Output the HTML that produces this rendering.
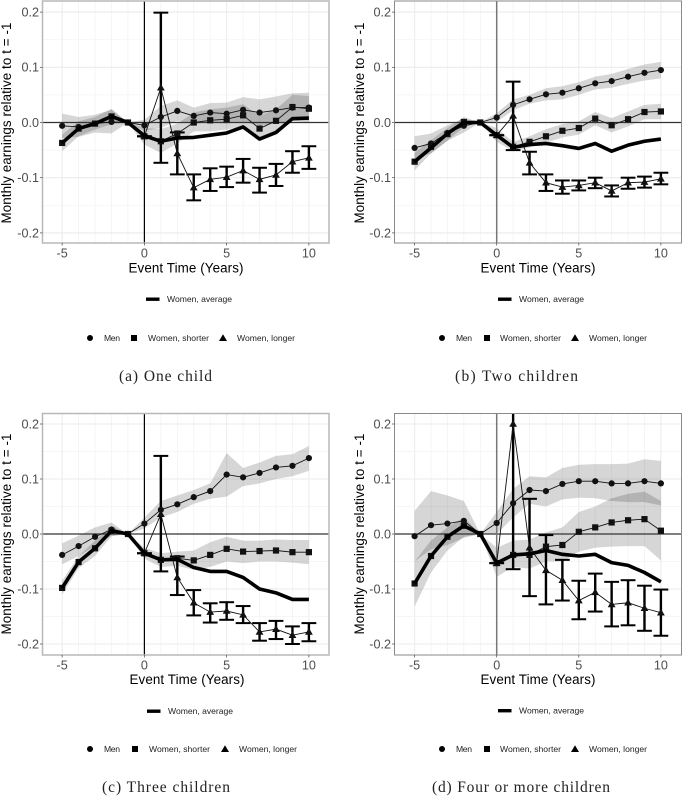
<!DOCTYPE html>
<html>
<head>
<meta charset="utf-8">
<title>Monthly earnings event study</title>
<style>
html,body{margin:0;padding:0;background:#fff}
svg{display:block;filter:blur(.3px)}
text{font-family:"Liberation Sans",sans-serif}
.tick{font-size:12.6px;fill:#4d4d4d}
.ttl{font-size:13.4px;fill:#000}
.leg{font-size:8.6px;fill:#222}
.cap{font-family:"Liberation Serif",serif;font-size:15.5px;fill:#222}
</style>
</head>
<body>
<svg id="figure" width="683" height="796" viewBox="0 0 683 796" xmlns="http://www.w3.org/2000/svg">
<rect width="683" height="796" fill="#fff"/>
<g id="marks"></g>

<g>
<text class="ttl" transform="translate(11,123) rotate(-90)" text-anchor="middle" textLength="201">Monthly earnings relative to t = -1</text>
<text class="ttl" x="186" y="272.5" text-anchor="middle" textLength="115">Event Time (Years)</text>
<rect x="146" y="297.5" width="13.5" height="3.4" fill="#000"/>
<text class="leg" x="167" y="302" textLength="65">Women, average</text>
<circle cx="90" cy="338" r="3"/>
<text class="leg" x="104" y="341" textLength="16">Men</text>
<rect x="131" y="335" width="6" height="6"/>
<text class="leg" x="148" y="341" textLength="61">Women, shorter</text>
<path d="M223 334.2l4 6.8h-8z"/>
<text class="leg" x="237" y="341" textLength="58">Women, longer</text>
<text class="cap" x="119" y="381" textLength="93">(a) One child</text>
</g>

<g>
<text class="ttl" transform="translate(364,123) rotate(-90)" text-anchor="middle" textLength="201">Monthly earnings relative to t = -1</text>
<text class="ttl" x="538" y="272.5" text-anchor="middle" textLength="115">Event Time (Years)</text>
<rect x="498" y="297.5" width="13.5" height="3.4" fill="#000"/>
<text class="leg" x="519" y="302" textLength="65">Women, average</text>
<circle cx="442" cy="338" r="3"/>
<text class="leg" x="456" y="341" textLength="16">Men</text>
<rect x="484" y="335" width="6" height="6"/>
<text class="leg" x="500" y="341" textLength="61">Women, shorter</text>
<path d="M575 334.2l4 6.8h-8z"/>
<text class="leg" x="589" y="341" textLength="58">Women, longer</text>
<text class="cap" x="455" y="381" textLength="123">(b) Two children</text>
</g>

<g>
<text class="ttl" transform="translate(11,534) rotate(-90)" text-anchor="middle" textLength="201">Monthly earnings relative to t = -1</text>
<text class="ttl" x="187" y="684" text-anchor="middle" textLength="115">Event Time (Years)</text>
<rect x="147" y="709.5" width="13.5" height="3.4" fill="#000"/>
<text class="leg" x="168" y="714" textLength="65">Women, average</text>
<circle cx="90" cy="749" r="3"/>
<text class="leg" x="104" y="752" textLength="16">Men</text>
<rect x="132" y="746" width="6" height="6"/>
<text class="leg" x="149" y="752" textLength="61">Women, shorter</text>
<path d="M225 745.2l4 6.8h-8z"/>
<text class="leg" x="239" y="752" textLength="58">Women, longer</text>
<text class="cap" x="102" y="792" textLength="128">(c) Three children</text>
</g>

<g>
<text class="ttl" transform="translate(364,534) rotate(-90)" text-anchor="middle" textLength="201">Monthly earnings relative to t = -1</text>
<text class="ttl" x="538" y="684" text-anchor="middle" textLength="115">Event Time (Years)</text>
<rect x="498" y="709" width="13.5" height="3.4" fill="#000"/>
<text class="leg" x="519" y="713.5" textLength="65">Women, average</text>
<circle cx="442" cy="749" r="3"/>
<text class="leg" x="456" y="752" textLength="16">Men</text>
<rect x="484" y="746" width="6" height="6"/>
<text class="leg" x="500" y="752" textLength="61">Women, shorter</text>
<path d="M575 745.2l4 6.8h-8z"/>
<text class="leg" x="589" y="752" textLength="58">Women, longer</text>
<text class="cap" x="432" y="792" textLength="178">(d) Four or more children</text>
</g>
</svg>

<script>
var years = [-5,-4,-3,-2,-1,0,1,2,3,4,5,6,7,8,9,10];
var longerYears = [0,1,2,3,4,5,6,7,8,9,10];
var xTickLabels = [-5,0,5,10];
var yTickLabels = [0.2,0.1,0,-0.1,-0.2];

/* Panel A: one child */
var aMen = [-.006,-.008,-.002,.001,0,-.005,.01,.021,.012,.018,.016,.023,.018,.022,.027,.027];
var aMenHigh = [.016,.01,.014,.023,0,.005,.03,.04,.027,.035,.036,.046,.042,.047,.053,.054];
var aMenLow = [-.028,-.026,-.018,-.02,0,-.015,-.01,.003,-.003,.001,-.002,.001,-.005,-.002,.003,.001];
var aShorter = [-.037,-.011,-.002,.011,0,-.025,-.034,-.02,0,.004,.006,.013,-.011,.003,.028,.025];
var aShorterHigh = [-.022,.002,.01,.025,0,-.01,-.012,-.002,.018,.024,.027,.033,.012,.024,.05,.048];
var aShorterLow = [-.052,-.025,-.013,-.003,0,-.04,-.055,-.038,-.016,-.016,-.013,-.007,-.03,-.018,.006,.004];
var aLonger = [-.025,.063,-.056,-.118,-.103,-.099,-.087,-.103,-.095,-.071,-.064];
var aLongerHigh = [-.025,.199,-.018,-.094,-.083,-.08,-.066,-.082,-.075,-.052,-.043];
var aLongerLow = [-.025,-.073,-.094,-.141,-.124,-.117,-.109,-.127,-.115,-.091,-.084];
var aAverage = [-.037,-.011,-.002,.011,0,-.024,-.034,-.028,-.027,-.023,-.019,-.008,-.03,-.018,.007,.008];

/* Panel B: two children */
var bMen = [-.046,-.038,-.019,-.006,0,.009,.032,.042,.051,.054,.062,.071,.075,.083,.09,.095];
var bMenHigh = [-.025,-.02,-.005,.007,0,.017,.042,.05,.062,.066,.073,.083,.088,.097,.105,.11];
var bMenLow = [-.067,-.056,-.033,-.018,0,.001,.022,.034,.04,.042,.05,.06,.063,.07,.076,.08];
var bShorter = [-.071,-.044,-.021,.001,0,-.023,-.044,-.035,-.025,-.015,-.01,.007,-.005,.006,.019,.02];
var bShorterHigh = [-.055,-.032,-.01,.01,0,-.01,-.035,-.025,-.012,-.003,.002,.019,.008,.02,.032,.034];
var bShorterLow = [-.087,-.056,-.033,-.008,0,-.035,-.052,-.045,-.037,-.027,-.022,-.005,-.018,-.007,.006,.006];
var bLonger = [-.023,.012,-.073,-.109,-.117,-.114,-.109,-.124,-.109,-.108,-.102];
var bLongerHigh = [-.023,.074,-.053,-.094,-.105,-.105,-.1,-.114,-.1,-.098,-.091];
var bLongerLow = [-.023,-.05,-.094,-.124,-.129,-.123,-.119,-.134,-.12,-.118,-.112];
var bAverage = [-.071,-.046,-.02,0,0,-.023,-.045,-.04,-.038,-.042,-.047,-.038,-.052,-.041,-.034,-.03];

/* Panel C: three children */
var cMen = [-.038,-.022,-.005,.008,0,.019,.044,.054,.067,.078,.108,.103,.111,.121,.124,.138];
var cMenHigh = [-.017,-.003,.012,.021,0,.03,.06,.07,.08,.092,.147,.12,.13,.142,.145,.16];
var cMenLow = [-.055,-.04,-.022,-.003,0,.01,.03,.04,.055,.064,.068,.087,.092,.1,.105,.115];
var cShorter = [-.098,-.051,-.026,.006,0,-.035,-.047,-.044,-.048,-.038,-.027,-.032,-.031,-.03,-.033,-.033];
var cShorterHigh = [-.085,-.04,-.012,.015,0,-.025,-.035,-.032,-.03,-.015,-.005,-.012,-.012,-.01,-.011,-.011];
var cShorterLow = [-.11,-.062,-.04,-.004,0,-.045,-.06,-.058,-.065,-.06,-.05,-.053,-.05,-.05,-.052,-.055];
var cLonger = [-.035,.036,-.079,-.125,-.142,-.14,-.147,-.178,-.173,-.184,-.178];
var cLongerHigh = [-.035,.142,-.041,-.102,-.126,-.124,-.131,-.162,-.158,-.168,-.162];
var cLongerLow = [-.035,-.068,-.111,-.148,-.161,-.156,-.162,-.194,-.191,-.2,-.195];
var cAverage = [-.098,-.051,-.026,.006,0,-.035,-.047,-.046,-.061,-.068,-.068,-.079,-.1,-.107,-.119,-.119];

/* Panel D: four or more children */
var dMen = [-.004,.016,.019,.024,0,.02,.056,.08,.078,.091,.096,.096,.092,.092,.096,.092];
var dMenHigh = [.042,.078,.07,.06,0,.04,.082,.105,.103,.12,.126,.127,.127,.128,.136,.133];
var dMenLow = [-.05,-.028,-.02,-.007,0,0,.03,.055,.05,.063,.066,.065,.06,.058,.058,.052];
var dShorter = [-.09,-.04,-.005,.015,0,-.053,-.038,-.038,-.023,-.02,.004,.012,.021,.025,.027,.006];
var dShorterHigh = [-.05,-.012,.012,.03,0,-.025,-.012,-.01,.003,.012,.04,.05,.065,.073,.077,.06];
var dShorterLow = [-.132,-.07,-.03,-.005,0,-.078,-.06,-.063,-.05,-.05,-.032,-.025,-.023,-.022,-.022,-.048];
var dLonger = [-.053,.2,-.025,-.066,-.084,-.121,-.106,-.128,-.125,-.135,-.143];
var dLongerHigh = [-.053,.3,.064,-.002,-.047,-.085,-.072,-.087,-.084,-.094,-.101];
var dLongerLow = [-.053,-.064,-.113,-.128,-.121,-.155,-.141,-.168,-.166,-.176,-.185];
var dAverage = [-.09,-.04,-.005,.015,0,-.053,-.038,-.036,-.03,-.037,-.04,-.037,-.052,-.057,-.07,-.087];

var panels = [
 {id:'a',left:42.5,right:329,top:1,bottom:243,x0:144.4,perYear:16.45,y0:122.5,per01:55.2,border:'#b8b8b8',bw:1.5,vline:'#000',vw:1.2,
  men:aMen,menHigh:aMenHigh,menLow:aMenLow,shorter:aShorter,shorterHigh:aShorterHigh,shorterLow:aShorterLow,longer:aLonger,longerHigh:aLongerHigh,longerLow:aLongerLow,average:aAverage},
 {id:'b',left:394.5,right:681.5,top:1,bottom:243,x0:496.7,perYear:16.42,y0:122.5,per01:55.2,border:'#8a8a8a',bw:1,vline:'#777',vw:1.5,
  men:bMen,menHigh:bMenHigh,menLow:bMenLow,shorter:bShorter,shorterHigh:bShorterHigh,shorterLow:bShorterLow,longer:bLonger,longerHigh:bLongerHigh,longerLow:bLongerLow,average:bAverage},
 {id:'c',left:42.5,right:329,top:413.5,bottom:655,x0:144.4,perYear:16.45,y0:534,per01:55,border:'#b8b8b8',bw:1.5,vline:'#000',vw:1.2,
  men:cMen,menHigh:cMenHigh,menLow:cMenLow,shorter:cShorter,shorterHigh:cShorterHigh,shorterLow:cShorterLow,longer:cLonger,longerHigh:cLongerHigh,longerLow:cLongerLow,average:cAverage},
 {id:'d',left:394.5,right:681.5,top:413.5,bottom:655,x0:496.7,perYear:16.42,y0:534,per01:55,border:'#8a8a8a',bw:1,vline:'#777',vw:1.5,
  men:dMen,menHigh:dMenHigh,menLow:dMenLow,shorter:dShorter,shorterHigh:dShorterHigh,shorterLow:dShorterLow,longer:dLonger,longerHigh:dLongerHigh,longerLow:dLongerLow,average:dAverage}
];

var NS = 'http://www.w3.org/2000/svg';
function make(tag, attrs, parent){
  var n = document.createElementNS(NS, tag);
  for (var k in attrs) n.setAttribute(k, attrs[k]);
  parent.appendChild(n);
  return n;
}
function pathThrough(xs, ys, xFn, yFn){
  return xs.map(function(v,i){ return (i?'L':'M') + xFn(v).toFixed(2) + ' ' + yFn(ys[i]).toFixed(2); }).join('');
}
function bandPath(xs, hi, lo, xFn, yFn){
  var up = xs.map(function(v,i){ return (i?'L':'M') + xFn(v).toFixed(2) + ' ' + yFn(hi[i]).toFixed(2); }).join('');
  var down = '';
  for (var i = xs.length-1; i >= 0; i--) down += 'L' + xFn(xs[i]).toFixed(2) + ' ' + yFn(lo[i]).toFixed(2);
  return up + down + 'Z';
}

var root = document.getElementById('marks');
panels.forEach(function(p){
  var xFn = function(v){ return p.x0 + v * p.perYear; };
  var yFn = function(v){ return p.y0 - v / 0.1 * p.per01; };
  var group = make('g', {}, root);
  
  

  var clip = make('clipPath', {id:'clip-' + p.id}, group);
  make('rect', {x:p.left, y:p.top, width:p.right-p.left, height:p.bottom-p.top}, clip);

  var grid = make('g', {}, group);
  
  
  years.forEach(function(v){
    var major = xTickLabels.indexOf(v) >= 0;
    make('line', {x1:xFn(v), x2:xFn(v), y1:p.top, y2:p.bottom, stroke:major ? '#ebebeb' : '#f1f1f1', 'stroke-width':major ? 1 : .7}, grid);
  });
  yTickLabels.forEach(function(v){
    make('line', {x1:p.left, x2:p.right, y1:yFn(v), y2:yFn(v), stroke:'#ebebeb', 'stroke-width':1.1}, grid);
    if (v > -0.2) make('line', {x1:p.left, x2:p.right, y1:yFn(v-0.05), y2:yFn(v-0.05), stroke:'#f3f3f3', 'stroke-width':.7}, grid);
  });

  var plot = make('g', {'clip-path':'url(#clip-' + p.id + ')'}, group);
  
  

  var bandMen = make('path', {d:bandPath(years, p.menHigh, p.menLow, xFn, yFn), fill:'#000', 'fill-opacity':.16}, plot);
  
  
  var bandShorter = make('path', {d:bandPath(years, p.shorterHigh, p.shorterLow, xFn, yFn), fill:'#000', 'fill-opacity':.16}, plot);
  
  

  var zeroH = make('line', {x1:p.left, x2:p.right, y1:yFn(0), y2:yFn(0), stroke:'#333', 'stroke-width':1.3}, plot);
  
  
  var zeroV = make('line', {x1:xFn(0), x2:xFn(0), y1:p.top, y2:p.bottom, stroke:p.vline, 'stroke-width':p.vw}, plot);
  
  

  longerYears.forEach(function(v,i){
    var bar = make('g', {stroke:'#000', fill:'none'}, plot);
    
    
    make('line', {x1:xFn(v), x2:xFn(v), y1:yFn(p.longerLow[i]), y2:yFn(p.longerHigh[i]), 'stroke-width':2.4}, bar);
    make('line', {x1:xFn(v-.45), x2:xFn(v+.45), y1:yFn(p.longerLow[i]), y2:yFn(p.longerLow[i]), 'stroke-width':2}, bar);
    make('line', {x1:xFn(v-.45), x2:xFn(v+.45), y1:yFn(p.longerHigh[i]), y2:yFn(p.longerHigh[i]), 'stroke-width':2}, bar);
  });

  var lineMen = make('path', {d:pathThrough(years, p.men, xFn, yFn), fill:'none', stroke:'#111', 'stroke-width':.9}, plot);
  
  
  var lineShorter = make('path', {d:pathThrough(years, p.shorter, xFn, yFn), fill:'none', stroke:'#111', 'stroke-width':.9}, plot);
  
  
  var lineLonger = make('path', {d:pathThrough(longerYears, p.longer, xFn, yFn), fill:'none', stroke:'#111', 'stroke-width':.9}, plot);
  
  

  years.forEach(function(v,i){
    var dot = make('circle', {cx:xFn(v), cy:yFn(p.men[i]), r:3.1, fill:'#111'}, plot);
    
    
    var sq = make('rect', {x:xFn(v)-3.1, y:yFn(p.shorter[i])-3.1, width:6.2, height:6.2, fill:'#111'}, plot);
    
    
  });
  longerYears.forEach(function(v,i){
    var cx = xFn(v), cy = yFn(p.longer[i]);
    var tri = make('path', {d:'M' + cx + ' ' + (cy-4) + 'l3.9 6.8h-7.8z', fill:'#111'}, plot);
    
    
  });

  var lineAvg = make('path', {d:pathThrough(years, p.average, xFn, yFn), fill:'none', stroke:'#000', 'stroke-width':3.6, 'stroke-linejoin':'round'}, plot);
  
  

  var frame = make('rect', {x:p.left, y:p.top, width:p.right-p.left, height:p.bottom-p.top, fill:'none', stroke:p.border, 'stroke-width':p.bw}, group);
  
  

  yTickLabels.forEach(function(v){
    var t = make('text', {x:p.left-3.5, y:yFn(v)+4.4, 'text-anchor':'end', 'class':'tick'}, group);
    t.textContent = v === 0 ? '0.0' : v.toFixed(1);
    
    
    make('line', {x1:p.left-2.5, x2:p.left, y1:yFn(v), y2:yFn(v), stroke:'#444', 'stroke-width':.7}, group);
  });
  xTickLabels.forEach(function(v){
    var t = make('text', {x:xFn(v), y:p.bottom+14.5, 'text-anchor':'middle', 'class':'tick'}, group);
    t.textContent = String(v);
    
    
    make('line', {x1:xFn(v), x2:xFn(v), y1:p.bottom, y2:p.bottom+2.5, stroke:'#444', 'stroke-width':.7}, group);
  });
});
</script>
</body>
</html>
